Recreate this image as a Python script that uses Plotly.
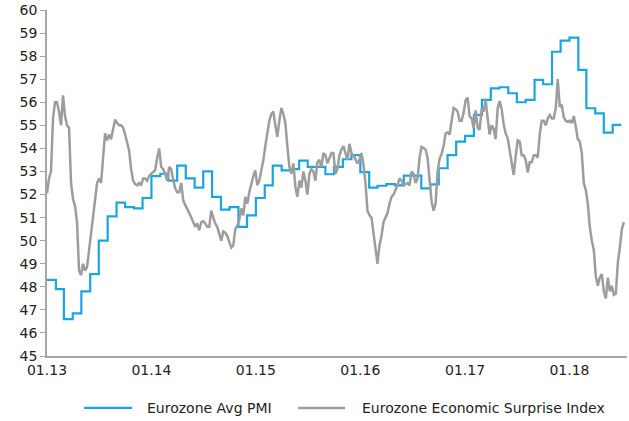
import pandas as pd
import plotly.graph_objects as go

# ---- data ----
pmi_start = "2013-01-01"
pmi_values = [
    48.3, 47.9, 46.6, 46.85, 47.8, 48.55, 50.0, 51.05, 51.65, 51.45, 51.4, 51.85,
    52.8, 52.9, 52.6, 53.25, 52.7, 52.3, 53.0, 51.9, 51.35, 51.45, 50.6, 51.1,
    51.85, 52.4, 53.25, 53.05, 53.1, 53.47, 53.2, 53.2, 52.88, 53.2, 53.53, 53.71,
    52.97, 52.3, 52.38, 52.45, 52.4, 52.82, 52.82, 52.27, 52.44, 53.14, 53.71, 54.29,
    54.54, 55.45, 56.1, 56.6, 56.65, 56.39, 56.0, 56.1, 56.97, 56.78, 58.19, 58.67,
    58.8, 57.4, 55.74, 55.52, 54.68, 55.02,
]

# weekly readings of the surprise-index line (rescaled to the PMI axis)
esi_start = "2013-01-01"
esi_values = [
    52.05, 52.7, 53.0, 55.3, 56.0, 56.0, 55.6, 55.0, 56.3, 55.4,
    55.0, 54.9, 52.5, 51.8, 51.5, 50.8, 48.7, 48.5, 49.0, 48.7,
    48.85, 49.6, 50.4, 51.1, 51.9, 52.5, 52.7, 52.5, 53.6, 54.65,
    54.35, 54.6, 54.4, 54.9, 55.25, 55.1, 55.0, 55.0, 54.9, 54.6,
    54.3, 53.9, 53.1, 52.6, 52.45, 52.4, 52.5, 52.4, 52.7, 52.7,
    52.6, 52.8, 52.9, 53.0, 53.05, 53.6, 54.0, 53.2, 53.1, 52.9,
    52.6, 53.2, 53.1, 52.65, 52.27, 52.1, 52.1, 52.5, 51.75, 51.55,
    51.4, 51.2, 51.0, 50.8, 50.6, 50.75, 50.45, 50.8, 50.85, 50.75,
    50.6, 50.6, 51.3, 51.0, 50.75, 50.6, 50.3, 50.0, 50.4, 50.35,
    50.2, 49.9, 49.7, 49.8, 50.5, 50.65, 50.9, 51.4, 51.1, 51.9,
    51.6, 52.1, 52.5, 52.8, 53.05, 52.4, 52.6, 53.0, 53.5, 54.1,
    54.6, 55.2, 55.5, 55.6, 55.0, 54.5, 55.2, 55.75, 55.5, 55.1,
    54.1, 53.2, 52.9, 53.35, 52.35, 51.9, 52.6, 52.3, 53.0, 52.6,
    52.0, 52.9, 53.1, 53.0, 52.6, 53.4, 53.5, 53.2, 53.8, 53.7,
    53.35, 53.6, 53.8, 53.8, 52.9, 53.1, 53.7, 53.95, 54.1, 53.8,
    53.5, 54.2, 53.8, 53.7, 53.5, 53.35, 53.5, 53.8, 53.3, 52.5,
    51.3, 51.1, 51.0, 50.4, 49.75, 49.0, 49.8, 50.2, 50.8, 51.0,
    51.2, 51.6, 51.9, 52.0, 52.2, 52.4, 52.7, 52.6, 52.4, 52.45,
    52.5, 52.4, 53.0, 52.9, 52.5, 52.7, 53.6, 54.07, 54.0, 53.95,
    53.6, 52.5, 51.7, 51.3, 51.6, 53.0, 53.55, 53.75, 54.1, 54.65,
    54.7, 54.6, 55.3, 55.75, 55.7, 55.6, 55.2, 55.2, 55.55, 56.1,
    56.2, 55.4, 55.3, 54.9, 55.65, 54.9, 54.8, 55.7, 55.6, 56.1,
    55.3, 54.6, 55.0, 54.85, 54.4, 55.75, 56.05, 55.7, 55.05, 54.65,
    54.45, 53.9, 53.4, 52.85, 53.65, 54.35, 54.3, 53.7, 53.7, 53.5,
    52.95, 53.4, 53.4, 53.7, 53.7, 53.6, 54.6, 55.2, 55.2, 55.0,
    55.3, 55.45, 55.3, 55.3, 55.75, 57.0, 55.8, 55.9, 55.35, 55.2,
    55.15, 55.2, 55.1, 55.4, 54.95, 54.4, 54.3, 53.8, 52.5, 52.2,
    51.6, 50.6, 50.0, 49.6, 48.45, 48.05, 48.4, 48.55, 47.8, 47.5,
    48.4, 47.8, 48.05, 47.65, 47.7, 49.05, 49.7, 50.5, 50.8,
]

tick_dates = ["2013-01-01", "2014-01-01", "2015-01-01", "2016-01-01", "2017-01-01", "2018-01-01"]
tick_labels = ["01.13", "01.14", "01.15", "01.16", "01.17", "01.18"]

series_names = ["Eurozone Avg PMI", "Eurozone Economic Surprise Index"]

# ---- build ----
pmi_dates = list(pd.date_range(pmi_start, periods=len(pmi_values), freq="MS"))
pmi_end = pmi_dates[-1] + pd.offsets.MonthBegin(1)
pmi_x = pmi_dates + [pmi_end]
pmi_y = pmi_values + [pmi_values[-1]]

esi_dates = pd.date_range(esi_start, periods=len(esi_values), freq="7D")

BLUE = "#19A6DF"
GREY = "#9D9D9D"
AXIS = "#A6A6A6"
TEXT = "#222222"
FONT = "DejaVu Sans"
colors = [BLUE, GREY]
widths = [2.2, 2.5]

fig = go.Figure()
fig.add_trace(go.Scatter(
    x=pmi_x, y=pmi_y, mode="lines", line_shape="hv",
    line=dict(color=BLUE, width=widths[0]), name=series_names[0],
))
fig.add_trace(go.Scatter(
    x=esi_dates, y=esi_values, mode="lines",
    line=dict(color=GREY, width=widths[1]), name=series_names[1],
))

# legend drawn below the plot (keys + labels in paper coordinates)
legend_y = -0.150
key_spans = [(0.064, 0.147), (0.433, 0.514)]
label_x = [0.169, 0.540]
for name, col, w, (k0, k1), lx in zip(series_names, colors, widths, key_spans, label_x):
    fig.add_shape(type="line", xref="paper", yref="paper",
                  x0=k0, x1=k1, y0=legend_y, y1=legend_y,
                  line=dict(color=col, width=w))
    fig.add_annotation(xref="paper", yref="paper", x=lx, y=legend_y,
                       xanchor="left", yanchor="middle", text=name,
                       showarrow=False, font=dict(family=FONT, size=14, color=TEXT))

fig.update_layout(
    width=629, height=421, autosize=False,
    margin=dict(l=47, r=2, t=10, b=65, autoexpand=False),
    paper_bgcolor="white", plot_bgcolor="white",
    font=dict(family=FONT, size=14, color=TEXT),
    showlegend=False,
    xaxis=dict(
        type="date", range=["2013-01-01", "2018-07-21"],
        tickvals=tick_dates, ticktext=tick_labels,
        showline=True, linecolor=AXIS, linewidth=1.5,
        showgrid=False, zeroline=False, ticks="", automargin=False,
        tickfont=dict(family=FONT, size=14, color=TEXT),
    ),
    yaxis=dict(
        range=[45, 60], dtick=1, tick0=45,
        showline=True, linecolor=AXIS, linewidth=1.5,
        showgrid=False, zeroline=False, automargin=False,
        ticks="outside", ticklen=5, tickcolor=AXIS, tickwidth=1,
        tickfont=dict(family=FONT, size=14, color=TEXT),
    ),
)

fig.write_html(
    "out.html",
    config={"displayModeBar": False},
    post_script="document.body.style.margin='0';document.body.style.overflow='hidden';",
)
